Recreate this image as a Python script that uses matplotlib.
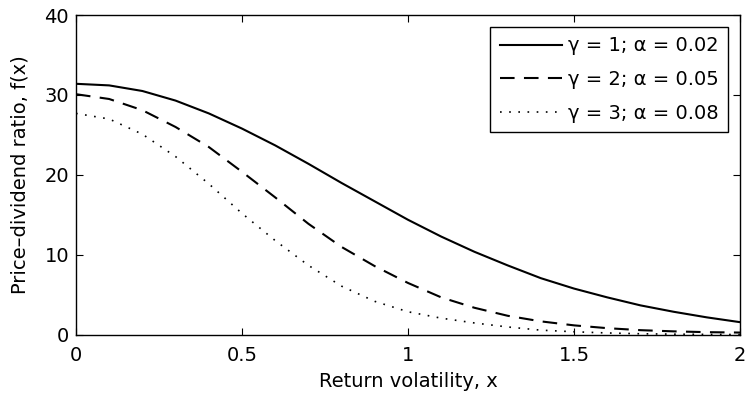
import numpy as np
import matplotlib
matplotlib.use("Agg")
import matplotlib.pyplot as plt

plt.rcParams['font.family'] = ['DejaVu Sans']

# return volatility grid
x = [0.0, 0.1, 0.2, 0.3, 0.4, 0.5, 0.6, 0.7, 0.8, 0.9, 1.0,
     1.1, 1.2, 1.3, 1.4, 1.5, 1.6, 1.7, 1.8, 1.9, 2.0]

# price-dividend ratio for each (gamma, alpha) pair
f_g1 = [31.4, 31.2, 30.5, 29.3, 27.7, 25.8, 23.7, 21.4, 19.0, 16.7, 14.4,
        12.3, 10.4, 8.7, 7.1, 5.8, 4.7, 3.7, 2.9, 2.2, 1.6]
f_g2 = [30.1, 29.5, 28.1, 26.0, 23.5, 20.4, 17.2, 13.9, 11.0, 8.6, 6.5,
        4.7, 3.4, 2.4, 1.7, 1.2, 0.85, 0.6, 0.45, 0.35, 0.3]
f_g3 = [27.7, 27.0, 25.1, 22.3, 18.9, 15.2, 11.8, 8.7, 6.1, 4.2, 2.9,
        2.1, 1.5, 1.0, 0.6, 0.4, 0.25, 0.15, 0.1, 0.07, 0.05]

labels = ['γ = 1; α = 0.02', 'γ = 2; α = 0.05', 'γ = 3; α = 0.08']

fs = 14

fig = plt.figure(figsize=(7.5, 3.95), dpi=100)
ax = fig.add_axes([0.1013, 0.152, 0.8854, 0.81])

ax.plot(x, f_g1, color='k', lw=1.5, label=labels[0])
ax.plot(x, f_g2, color='k', lw=1.5, dashes=(7, 4.5), label=labels[1])
ax.plot(x, f_g3, color='k', lw=1.2, dashes=(1, 4.5), label=labels[2])

ax.set_xlim(0, 2)
ax.set_ylim(0, 40)
ax.set_xticks([0, 0.5, 1, 1.5, 2])
ax.set_xticklabels(['0', '0.5', '1', '1.5', '2'])
ax.set_yticks([0, 10, 20, 30, 40])
ax.tick_params(direction='in', length=5, width=0.8, labelsize=fs,
               top=True, right=True)
ax.tick_params(axis='x', pad=8)
ax.tick_params(axis='y', pad=5)
for s in ax.spines.values():
    s.set_linewidth(1.0)

ax.set_xlabel('Return volatility, x', fontsize=fs, labelpad=5)
ax.set_ylabel('Price–dividend ratio, f(x)', fontsize=fs, labelpad=11)

leg = ax.legend(loc='upper right', fontsize=fs, handlelength=3.2,
                handletextpad=0.3, labelspacing=0.75, borderpad=0.5,
                borderaxespad=0.6, fancybox=False, framealpha=1)
leg.get_frame().set_edgecolor('k')
leg.get_frame().set_linewidth(1.0)

fig.savefig('out.png', dpi=100)
